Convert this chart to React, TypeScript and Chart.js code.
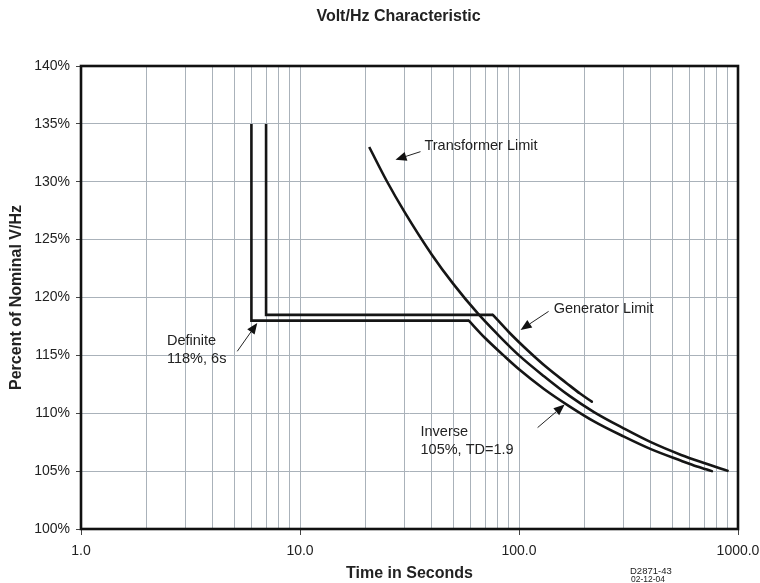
import React, { useEffect, useRef } from "react";
import { Chart, registerables } from "chart.js";
Chart.register(...registerables);

const FONT = "'Liberation Sans', Arial, sans-serif";

// Axis ticks
const xTickValues = [1, 2, 3, 4, 5, 6, 7, 8, 9, 10, 20, 30, 40, 50, 60, 70, 80, 90, 100, 200, 300, 400, 500, 600, 700, 800, 900, 1000];
const xMajorValues = [1, 10, 100, 1000];
const yTickValues = [100, 105, 110, 115, 120, 125, 130, 135, 140];

// Definite (118%, 6s) + inverse (105%, TD=1.9)
const defStepX = [6, 6, 59];
const defStepY = [135, 118, 118];
const defCurveX = [59, 70, 85, 100, 130, 170, 220, 300, 400, 550, 650, 760];
const defCurveY = [118.0, 116.5, 115.0, 113.8, 112.1, 110.6, 109.3, 108.0, 106.9, 105.9, 105.4, 105.0];

// Generator limit
const genStepX = [7, 7, 76];
const genStepY = [135, 118.5, 118.5];
const genCurveX = [76, 90, 110, 135, 165, 190, 215];
const genCurveY = [118.5, 117.0, 115.4, 113.9, 112.6, 111.7, 111.0];

// Transformer limit
const trX = [20.7, 25, 30, 40, 50, 65, 80, 100, 130, 170, 220, 300, 400, 550, 700, 906];
const trY = [133.0, 130.0, 127.4, 123.7, 121.2, 118.6, 116.8, 115.0, 113.2, 111.5, 110.1, 108.7, 107.5, 106.4, 105.7, 105.0];

// Annotations (data coordinates)
const labelTexts = [["Transformer Limit"], ["Generator Limit"], ["Definite", "118%, 6s"], ["Inverse", "105%, TD=1.9"]];
const labelX = [37.0, 144, 2.47, 35.5];
const labelY = [133.1, 119.0, 116.2, 108.4];
const arrowFromX = [35.5, 136.5, 5.17, 121.6];
const arrowFromY = [132.6, 118.8, 115.35, 108.76];
const arrowToX = [27.3, 101.7, 6.38, 161.6];
const arrowToY = [131.9, 117.2, 117.8, 110.75];

const zip = (xs: number[], ys: number[]) => xs.map((x, i) => ({ x, y: ys[i] }));

const overlayPlugin = {
  id: "overlay",
  afterDraw(chart: any) {
    const { ctx, chartArea: a, scales } = chart;
    const sx = scales.x;
    const sy = scales.y;
    ctx.save();
    // frame
    ctx.strokeStyle = "#111";
    ctx.lineWidth = 2.6;
    ctx.strokeRect(a.left, a.top, a.right - a.left, a.bottom - a.top);

    // annotations text
    ctx.fillStyle = "#222";
    ctx.font = `14.5px ${FONT}`;
    ctx.textAlign = "left";
    ctx.textBaseline = "middle";
    labelTexts.forEach((lines, i) => {
      const px = sx.getPixelForValue(labelX[i]);
      const py = sy.getPixelForValue(labelY[i]);
      lines.forEach((t, j) => ctx.fillText(t, px, py + j * 18));
    });

    // arrows
    ctx.strokeStyle = "#222";
    ctx.lineWidth = 1;
    arrowFromX.forEach((_, i) => {
      const x1 = sx.getPixelForValue(arrowFromX[i]);
      const y1 = sy.getPixelForValue(arrowFromY[i]);
      const x2 = sx.getPixelForValue(arrowToX[i]);
      const y2 = sy.getPixelForValue(arrowToY[i]);
      const ang = Math.atan2(y2 - y1, x2 - x1);
      const L = 11, W = 4.5;
      const bx = x2 - L * Math.cos(ang);
      const by = y2 - L * Math.sin(ang);
      ctx.beginPath();
      ctx.moveTo(x1, y1);
      ctx.lineTo(bx, by);
      ctx.stroke();
      ctx.beginPath();
      ctx.moveTo(x2, y2);
      ctx.lineTo(bx + W * Math.sin(ang), by - W * Math.cos(ang));
      ctx.lineTo(bx - W * Math.sin(ang), by + W * Math.cos(ang));
      ctx.closePath();
      ctx.fillStyle = "#111";
      ctx.fill();
    });

    // chart title
    ctx.fillStyle = "#222";
    ctx.font = `bold 16px ${FONT}`;
    ctx.textAlign = "center";
    ctx.textBaseline = "alphabetic";
    ctx.fillText("Volt/Hz Characteristic", 398.5, 20.7);

    // drawing number
    ctx.textAlign = "left";
    ctx.font = `9.5px ${FONT}`;
    ctx.fillText("D2871-43", 630, 574);
    ctx.font = `8.5px ${FONT}`;
    ctx.fillText("02-12-04", 631, 582);
    ctx.restore();
  },
};

export default function App() {
  const ref = useRef<HTMLCanvasElement>(null);
  useEffect(() => {
    document.body.style.margin = "0";
    const lineBase = {
      showLine: true,
      pointRadius: 0,
      borderColor: "#151515",
      borderWidth: 2.6,
      fill: false,
    };
    const chart = new Chart(ref.current as HTMLCanvasElement, {
      type: "scatter",
      data: {
        datasets: [
          { ...lineBase, label: "def step", data: zip(defStepX, defStepY), tension: 0, borderJoinStyle: "miter", borderCapStyle: "butt" },
          { ...lineBase, label: "def curve", data: zip(defCurveX, defCurveY), cubicInterpolationMode: "monotone", borderCapStyle: "round" },
          { ...lineBase, label: "gen step", data: zip(genStepX, genStepY), tension: 0, borderJoinStyle: "miter", borderCapStyle: "butt" },
          { ...lineBase, label: "gen curve", data: zip(genCurveX, genCurveY), cubicInterpolationMode: "monotone", borderCapStyle: "round" },
          { ...lineBase, label: "transformer", data: zip(trX, trY), cubicInterpolationMode: "monotone", borderCapStyle: "butt" },
        ] as any,
      },
      options: {
        responsive: false,
        animation: false,
        devicePixelRatio: 1,
        layout: { padding: { left: 0, right: 22, top: 66, bottom: 0 } },
        plugins: {
          legend: { display: false },
          tooltip: { enabled: false },
          title: { display: false },
        },
        scales: {
          x: {
            type: "logarithmic",
            min: 1,
            max: 1000,
            afterBuildTicks: (s: any) => {
              s.ticks = xTickValues.map((v) => ({ value: v }));
            },
            afterFit: (s: any) => {
              s.height = 54;
              s.paddingLeft = 0;
              s.paddingRight = 0;
            },
            ticks: {
              autoSkip: false,
              maxRotation: 0,
              minRotation: 0,
              color: "#222",
              padding: 8,
              font: { family: FONT, size: 14 },
              callback: (v: any) => (xMajorValues.includes(Number(v)) ? Number(v).toFixed(1) : ""),
            },
            grid: {
              color: "#aab2ba",
              lineWidth: 1,
              tickLength: 6,
              tickColor: (c: any) => (c.tick && xMajorValues.includes(c.tick.value) ? "#444" : "rgba(0,0,0,0)"),
            },
            border: { display: false },
            title: {
              display: true,
              text: "Time in Seconds",
              color: "#222",
              font: { family: FONT, size: 16, weight: "bold" },
              padding: { top: 0, bottom: 0 },
            },
          },
          y: {
            min: 100,
            max: 140,
            afterBuildTicks: (s: any) => {
              s.ticks = yTickValues.map((v) => ({ value: v }));
            },
            afterFit: (s: any) => {
              s.width = 81;
            },
            ticks: {
              color: "#222",
              padding: 6,
              font: { family: FONT, size: 14 },
              callback: (v: any) => `${v}%`,
            },
            grid: { color: "#aab2ba", lineWidth: 1, tickLength: 5, tickColor: "#444" },
            border: { display: false },
            title: {
              display: true,
              text: "Percent of Nominal V/Hz",
              color: "#222",
              font: { family: FONT, size: 16, weight: "bold" },
              padding: { top: 7, bottom: 0 },
            },
          },
        },
      } as any,
      plugins: [overlayPlugin],
    });
    return () => chart.destroy();
  }, []);
  return (
    <div style={{ position: "absolute", left: 0, top: 0, width: 760, height: 583 }}>
      <canvas ref={ref} width={760} height={583} style={{ display: "block", width: 760, height: 583 }} />
    </div>
  );
}
